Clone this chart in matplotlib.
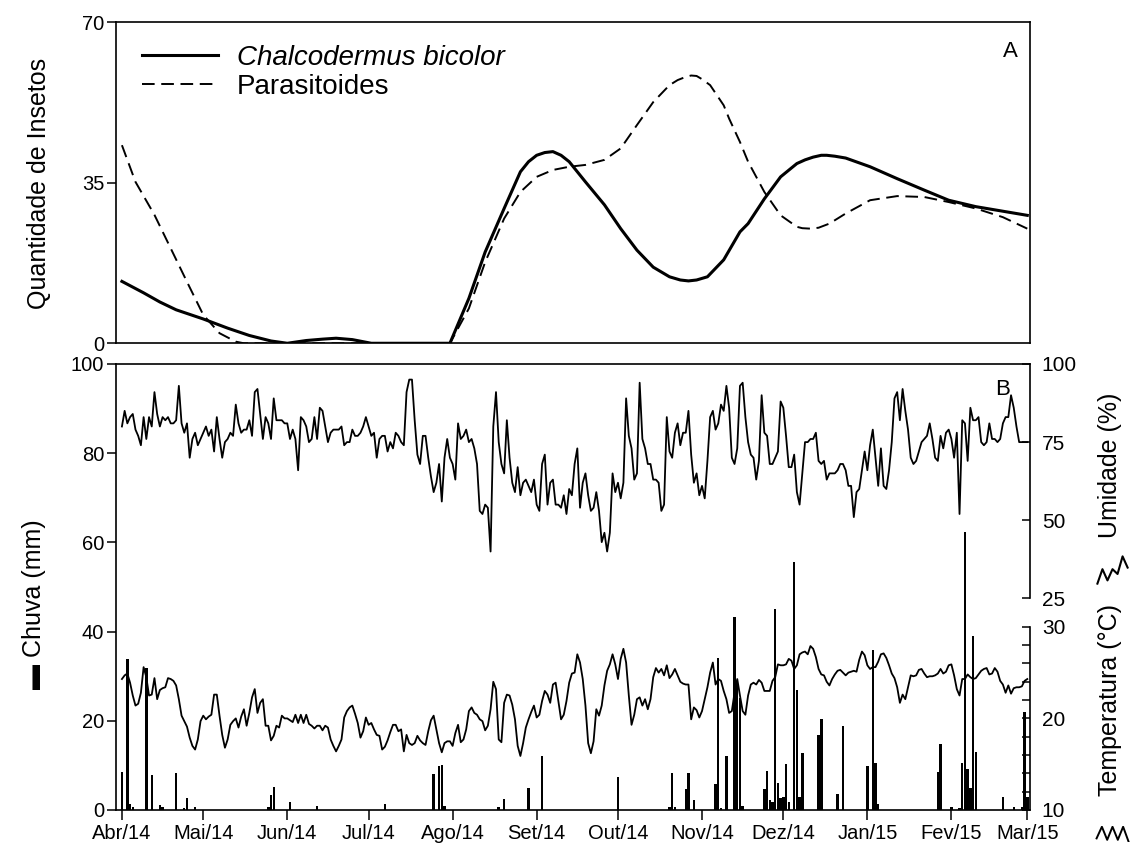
import numpy as np
import matplotlib
matplotlib.use('Agg')
import matplotlib.pyplot as plt

plt.rcParams['font.family'] = ['Liberation Sans', 'DejaVu Sans']

start = np.datetime64('2014-04-01')
month_labels = ['Abr/14', 'Mai/14', 'Jun/14', 'Jul/14', 'Ago/14', 'Set/14',
                'Out/14', 'Nov/14', 'Dez/14', 'Jan/15', 'Fev/15', 'Mar/15']

# insect counts, x = days since 1 Apr 2014
chalco_day = [0, 8, 14, 20, 30, 39, 47, 55, 61, 68, 74, 79, 85, 92, 121, 128,
              134, 141, 147, 150, 153, 156, 159, 162, 165, 171, 178, 184, 190,
              196, 202, 206, 209, 212, 216, 222, 228, 231, 237, 243, 249, 252,
              255, 258, 260, 263, 267, 276, 286, 296, 305, 315, 325, 334]
chalco_n = [13.5, 11.0, 9.0, 7.3, 5.3, 3.3, 1.7, 0.5, 0, 0.6, 0.9, 1.1, 0.8, 0,
            0, 9.8, 19.9, 29.4, 37.4, 39.6, 41.0, 41.6, 41.8, 41.0, 39.6, 35.2,
            30.2, 25.0, 20.3, 16.6, 14.5, 13.8, 13.6, 13.8, 14.5, 18.2, 24.3,
            26.1, 31.5, 36.3, 39.2, 40.0, 40.6, 41.0, 41.0, 40.8, 40.4, 38.5,
            35.9, 33.4, 31.2, 29.8, 28.8, 27.9]
paras_day = [0, 5, 12, 18, 24, 30, 36, 42, 45, 121, 128, 134, 141, 147, 153,
             159, 165, 171, 178, 184, 190, 196, 202, 205, 208, 210, 212, 214,
             217, 222, 224, 228, 231, 237, 243, 249, 251, 254, 257, 261, 267,
             276, 286, 296, 305, 315, 325, 334]
paras_n = [43.2, 35.2, 28.0, 20.7, 13.4, 6.2, 2.2, 0.35, 0, 0, 7.6, 17.7, 27.2,
           33.0, 36.3, 37.8, 38.5, 38.9, 40.0, 42.5, 47.6, 52.6, 56.3, 57.4,
           58.1, 58.4, 58.3, 57.6, 56.3, 51.9, 49.0, 43.9, 39.6, 33.0, 27.9,
           25.4, 25.1, 25.0, 25.2, 26.1, 28.3, 31.2, 32.1, 31.9, 30.8, 29.4,
           27.5, 25.0]

# daily weather from 1 Apr 2014 to 1 Mar 2015
umidade = [
    80, 85, 81, 83, 84, 79, 77, 74, 83, 76, 83, 80, 91, 84, 80, 83, 82, 83, 81, 81,
    82, 93, 81, 78, 81, 70, 76, 78, 74, 76, 78, 80, 77, 79, 72, 83, 76, 70, 75, 76,
    78, 77, 87, 81, 78, 79, 79, 82, 77, 91, 92, 84, 76, 83, 81, 76, 89, 82, 82, 82,
    81, 81, 76, 79, 76, 66, 83, 82, 80, 75, 76, 83, 76, 86, 85, 80, 75, 78, 79, 79,
    79, 80, 74, 75, 75, 79, 77, 77, 78, 80, 83, 80, 77, 78, 70, 76, 77, 77, 72, 75,
    73, 78, 77, 75, 74, 91, 95, 95, 82, 71, 68, 77, 77, 70, 64, 59, 62, 68, 56, 70,
    76, 70, 68, 63, 81, 76, 77, 79, 75, 76, 73, 68, 53, 52, 55, 54, 40, 80, 91, 75,
    68, 65, 82, 70, 62, 59, 67, 58, 62, 63, 61, 59, 63, 55, 53, 68, 71, 55, 62, 63,
    55, 55, 54, 58, 52, 60, 58, 68, 73, 54, 62, 65, 58, 53, 54, 59, 53, 43, 46, 40,
    46, 65, 59, 62, 57, 62, 89, 77, 73, 63, 65, 94, 76, 73, 68, 68, 63, 63, 62, 53,
    55, 83, 72, 70, 78, 81, 74, 78, 78, 85, 71, 62, 65, 58, 61, 57, 69, 83, 85, 79,
    81, 87, 85, 93, 86, 70, 68, 73, 93, 94, 83, 75, 71, 70, 63, 69, 90, 78, 77, 68,
    68, 70, 72, 88, 86, 77, 67, 67, 71, 59, 55, 65, 75, 75, 76, 76, 78, 69, 68, 69,
    63, 65, 65, 65, 66, 68, 68, 66, 61, 61, 51, 59, 60, 66, 72, 66, 74, 79, 70, 61,
    73, 61, 60, 66, 75, 89, 91, 82, 92, 85, 79, 70, 68, 69, 72, 75, 76, 77, 81, 76,
    70, 69, 77, 73, 78, 79, 76, 70, 78, 52, 82, 81, 69, 86, 82, 82, 83, 75, 74, 75,
    81, 76, 76, 75, 76, 81, 83, 83, 90, 86, 80, 75, 75, 75, 75]

temperatura = [
    24.3, 24.7, 24.9, 23.9, 22.5, 21.4, 21.6, 22.8, 25.6, 24.5,
    22.5, 22.6, 24.4, 22.1, 23.1, 23.3, 23.4, 24.4, 24.3, 24.1,
    23.6, 22.1, 20.3, 19.7, 19.1, 17.9, 17.0, 16.6, 17.7, 19.7,
    20.3, 19.9, 20.2, 20.4, 22.6, 22.6, 20.3, 18.2, 16.8, 17.7,
    19.3, 19.7, 20.0, 19.0, 20.2, 21.0, 19.2, 20.6, 22.3, 23.2,
    20.6, 21.7, 22.1, 19.2, 19.2, 17.6, 18.1, 19.2, 19.0, 20.3,
    20.0, 20.0, 19.8, 19.6, 20.4, 19.5, 20.4, 19.5, 20.4, 19.4,
    19.2, 18.9, 19.2, 19.2, 18.7, 19.2, 19.0, 17.7, 17.0, 16.4,
    17.0, 17.7, 20.1, 20.8, 21.2, 21.4, 20.5, 19.5, 17.9, 18.6,
    20.1, 19.3, 19.5, 18.8, 18.2, 18.1, 16.6, 16.9, 17.6, 18.5,
    19.3, 19.3, 18.6, 18.8, 16.4, 18.2, 17.3, 17.1, 17.3, 18.1,
    17.6, 17.3, 17.1, 18.6, 19.8, 20.3, 18.8, 17.3, 16.3, 17.3,
    17.5, 17.5, 17.0, 18.4, 19.3, 17.4, 17.7, 18.8, 20.8, 21.2,
    20.6, 20.4, 19.9, 19.7, 18.7, 19.2, 21.0, 24.0, 23.2, 17.7,
    17.4, 21.7, 22.6, 22.5, 21.5, 19.9, 17.0, 15.9, 17.3, 19.0,
    19.9, 20.7, 21.4, 20.1, 20.4, 21.9, 23.0, 22.6, 21.7, 23.7,
    23.9, 21.9, 19.9, 20.4, 21.9, 23.9, 24.9, 25.0, 27.0, 26.1,
    24.3, 21.4, 17.3, 16.2, 17.5, 21.0, 20.3, 21.4, 23.6, 25.2,
    25.9, 27.0, 25.9, 24.3, 26.5, 27.6, 26.1, 22.5, 19.3, 20.4,
    22.1, 22.3, 21.4, 22.1, 21.0, 22.1, 24.5, 25.5, 25.0, 25.4,
    24.7, 25.8, 24.4, 24.8, 25.4, 24.7, 24.0, 23.8, 23.7, 23.7,
    19.9, 21.2, 20.9, 20.1, 20.8, 22.1, 23.4, 25.0, 26.1, 23.7,
    24.3, 24.1, 23.0, 22.1, 20.6, 20.8, 22.8, 24.3, 22.5, 20.8,
    20.4, 22.5, 23.7, 23.9, 23.7, 24.2, 23.9, 23.0, 23.0, 23.0,
    24.1, 24.5, 25.9, 25.8, 25.8, 25.9, 26.5, 26.3, 25.4, 25.8,
    27.0, 27.2, 27.3, 27.0, 27.9, 27.6, 26.7, 25.4, 24.8, 24.7,
    24.0, 23.6, 24.3, 24.8, 25.2, 25.3, 25.0, 24.7, 25.0, 25.1,
    25.2, 25.1, 26.4, 27.3, 26.9, 25.8, 25.4, 25.6, 25.6, 26.2,
    27.0, 27.1, 26.6, 25.8, 24.9, 24.4, 23.4, 21.7, 22.6, 22.1,
    23.4, 24.7, 24.6, 24.7, 25.3, 25.4, 24.9, 24.5, 24.6, 24.6,
    24.7, 24.9, 25.4, 24.9, 25.1, 25.8, 25.9, 24.7, 23.2, 22.5,
    24.3, 24.3, 24.8, 24.5, 24.3, 24.4, 24.8, 25.2, 25.4, 25.5,
    24.8, 24.9, 25.5, 25.1, 24.1, 23.7, 22.8, 23.6, 22.7, 23.3,
    23.4, 23.4, 23.5, 24.1, 24.3]

# rainy days only
chuva_day = [0, 2, 3, 4, 9, 11, 14, 15, 20, 23, 24, 27, 54, 55, 56, 62, 72, 97,
             115, 117, 118, 119, 139, 141, 150, 155, 183, 202, 203, 204, 208,
             209, 211, 219, 220, 221, 223, 226, 227, 228, 229, 237, 238, 239,
             240, 241, 242, 243, 244, 245, 246, 248, 249, 250, 251, 257, 258,
             264, 266, 275, 277, 278, 279, 301, 302, 306, 309, 310, 311, 312,
             313, 314, 315, 325, 329, 332, 333, 334]
chuva_mm = [8.6, 33.8, 1.3, 0.7, 31.8, 7.8, 1.1, 0.7, 8.4, 0.4, 2.8, 0.6, 0.7,
            3.4, 5.1, 1.9, 0.9, 1.3, 8.1, 9.9, 10.0, 1.0, 0.6, 2.4, 4.9, 12.1,
            7.3, 0.7, 8.4, 0.7, 4.6, 8.2, 2.2, 5.8, 34.0, 0.4, 12.0, 43.2, 29.0,
            25.0, 0.9, 4.6, 8.7, 2.2, 1.9, 45.0, 6.0, 2.6, 3.0, 10.3, 1.9, 55.6,
            26.9, 3.0, 12.7, 16.8, 20.3, 3.6, 18.8, 9.9, 35.9, 10.5, 1.3, 8.6,
            14.9, 0.6, 0.4, 10.5, 62.3, 9.3, 4.9, 39.0, 13.1, 3.0, 0.6, 0.7,
            22.0, 3.0]

months = np.arange('2014-04', '2015-04', dtype='datetime64[M]')
month_pos = (months.astype('datetime64[D]') - start).astype(int)
days = np.arange(len(umidade))
xlim = (-2.2, 335)

fig = plt.figure(figsize=(11.38, 8.52), dpi=100)
ax1 = fig.add_axes([0.1019, 0.5971, 0.8032, 0.3767])
ax2 = fig.add_axes([0.1019, 0.0493, 0.8032, 0.5235])

# --- A: insects
ax1.plot(chalco_day, chalco_n, color='black', lw=2.2, label='Chalcodermus bicolor',
         solid_joinstyle='round')
ax1.plot(paras_day, paras_n, color='black', lw=1.4, linestyle=(0, (6.5, 3.4)),
         label='Parasitoides')
ax1.set_xlim(*xlim)
ax1.set_ylim(0, 70)
ax1.set_yticks([0, 35, 70])
ax1.set_xticks([])
ax1.tick_params(axis='y', direction='out', length=6.5, width=1.1, pad=2, labelsize=14.5)
for s in ax1.spines.values():
    s.set_linewidth(1.2)
leg = ax1.legend(loc='upper left', bbox_to_anchor=(0.028, 0.93), frameon=False,
                 fontsize=20, handlelength=2.75, handletextpad=0.68,
                 labelspacing=0.1, borderpad=0, borderaxespad=0)
leg.get_texts()[0].set_fontstyle('italic')
ax1.text(0.978, 0.893, 'A', transform=ax1.transAxes, ha='center', va='baseline', fontsize=16)

# --- B: weather
ax2.bar(chuva_day, chuva_mm, width=0.9, color='black')
ax2.set_xlim(*xlim)
ax2.set_ylim(0, 100)
ax2.set_yticks(range(0, 101, 20))
ax2.set_xticks(month_pos)
ax2.set_xticklabels(month_labels)
ax2.tick_params(axis='y', direction='out', length=6.5, width=1.1, pad=2, labelsize=14.5)
ax2.tick_params(axis='x', direction='out', length=7, width=1.1, pad=3, labelsize=14.5)
ax2.spines['right'].set_visible(False)
for s in ax2.spines.values():
    s.set_linewidth(1.2)

axh = ax2.twinx()
axh.plot(days, umidade, color='black', lw=1.3)
axh.set_ylim(-42.7, 100)
axh.set_yticks([25, 50, 75, 100])
axh.tick_params(axis='y', direction='in', length=6, width=1.1, pad=8.5, labelsize=15)
for side in ['left', 'top', 'bottom']:
    axh.spines[side].set_visible(False)
axh.spines['right'].set_bounds(25, 100)
axh.spines['right'].set_linewidth(1.2)

axt = ax2.twinx()
axt.plot(days, temperatura, color='black', lw=1.3)
axt.set_ylim(10, 58.7)
axt.set_yticks([10, 20, 30])
axt.set_yticks(range(12, 30, 2), minor=True)
axt.tick_params(axis='y', which='both', direction='in', length=6, width=1.1, pad=8.5,
                labelsize=15)
for side in ['left', 'top', 'bottom']:
    axt.spines[side].set_visible(False)
axt.spines['right'].set_bounds(10, 30)
axt.spines['right'].set_linewidth(1.2)

ax2.text(0.9705, 0.9305, 'B', transform=ax2.transAxes, ha='center', va='baseline', fontsize=16)

# axis titles
fig.text(0.034, 0.785, 'Quantidade de Insetos', rotation=90, ha='center', va='center', fontsize=18)
fig.text(0.030, 0.291, '\u25ac Chuva (mm)', rotation=90, ha='center', va='center', fontsize=18)
fig.text(0.9754, 0.454, 'Umidade (%)', rotation=90, ha='center', va='center', fontsize=18)
fig.text(0.9754, 0.178, 'Temperatura (\u00b0C)', rotation=90, ha='center', va='center', fontsize=18)

# line keys next to the right-hand titles
key_h = fig.add_axes([0.963, 0.3134, 0.0292, 0.0352])
key_h.plot(umidade[7:14], color='black', lw=1.5)
key_h.axis('off')
key_t = fig.add_axes([0.9622, 0.0117, 0.0308, 0.0188])
key_t.plot(temperatura[63:70], color='black', lw=1.4)
key_t.axis('off')

fig.savefig('out.png', dpi=100)
